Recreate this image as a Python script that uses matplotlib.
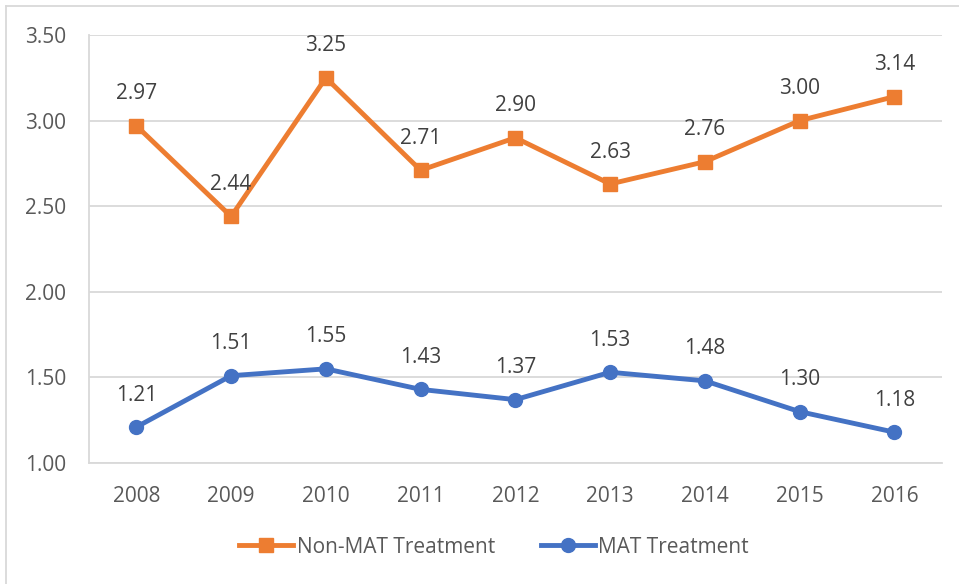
import matplotlib.pyplot as plt
from matplotlib.lines import Line2D

years = ["2008", "2009", "2010", "2011", "2012", "2013", "2014", "2015", "2016"]
non_mat = [2.97, 2.44, 3.25, 2.71, 2.90, 2.63, 2.76, 3.00, 3.14]
mat = [1.21, 1.51, 1.55, 1.43, 1.37, 1.53, 1.48, 1.30, 1.18]

ORANGE = "#ED7D31"
BLUE = "#4472C4"
TEXT = "#595959"
GRID = "#D9D9D9"
FS = 15

plt.rcParams['font.family'] = ['Open Sans', 'DejaVu Sans']

fig = plt.figure(figsize=(9.59, 5.84), dpi=100)
ax = fig.add_axes([0.0928, 0.2072, 0.8892, 0.7328])

x = list(range(len(years)))
ax.plot(x, non_mat, color=ORANGE, lw=3.5, marker="s", ms=10, label="Non-MAT Treatment")
ax.plot(x, mat, color=BLUE, lw=3.5, marker="o", ms=10, label="MAT Treatment")

for series in (non_mat, mat):
    for xi, v in zip(x, series):
        ax.annotate(f"{v:.2f}", (xi, v), xytext=(0, 23), textcoords="offset points",
                    ha="center", va="center", fontsize=FS, color="#404040")

ax.set_xlim(-0.5, len(years) - 0.5)
ax.set_ylim(1.0, 3.5)
yt = [1.0, 1.5, 2.0, 2.5, 3.0, 3.5]
ax.set_yticks(yt)
ax.set_yticklabels([f"{t:.2f}" for t in yt])
ax.set_xticks(x)
ax.set_xticklabels(years)
ax.tick_params(length=0, labelsize=FS, labelcolor=TEXT)
ax.tick_params(axis="y", pad=16.5)
ax.tick_params(axis="x", pad=16.5)
ax.grid(axis="y", color=GRID, lw=1.3)
ax.set_axisbelow(True)
for side in ["top", "right"]:
    ax.spines[side].set_visible(False)
for side in ["left", "bottom"]:
    ax.spines[side].set_color(GRID)
    ax.spines[side].set_linewidth(1.3)

handles = [Line2D([], [], color=ORANGE, lw=3.5, marker="s", ms=10),
           Line2D([], [], color=BLUE, lw=3.5, marker="o", ms=10)]
fig.legend(handles, ["Non-MAT Treatment", "MAT Treatment"], loc="center",
           bbox_to_anchor=(0.515, 0.063), ncol=2, frameon=False, fontsize=FS,
           labelcolor=TEXT, handlelength=2.6, handletextpad=0.15, columnspacing=2.2)

# chart border
fig.add_artist(Line2D([6 / 959, 6 / 959], [0, 1 - 6 / 584], color=GRID, lw=1.3))
fig.add_artist(Line2D([6 / 959, 1], [1 - 6 / 584, 1 - 6 / 584], color=GRID, lw=1.3))

fig.savefig("out.png", dpi=100, facecolor="white")
